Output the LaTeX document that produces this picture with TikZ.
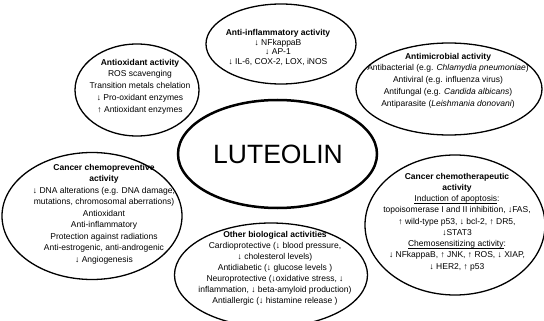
\documentclass[tikz,border=0pt]{standalone}
\usepackage{fontspec}
\setmainfont{Liberation Sans}
\usetikzlibrary{shapes.geometric}
\newcommand\myul[1]{\setbox0\hbox{#1}\rlap{\rule[-1.6pt]{\wd0}{0.55pt}}\box0}
\begin{document}
\begin{tikzpicture}[x=1pt,y=-1pt,
  bubble/.style={draw=black, ellipse, line width=1.3pt, inner sep=0pt},
  core/.style={draw=black, ellipse, line width=2.5pt, inner sep=0pt},
  txt/.style={align=center, inner sep=0pt, text=black}]
\useasboundingbox (0,0) rectangle (544,321);
\fill[white] (0,0) rectangle (544,321);
% ellipses
\node[core, minimum width=199pt, minimum height=108pt] (lut) at (277.5,154) {};
\node[bubble, minimum width=150pt, minimum height=80pt] (infl) at (281,44) {};
\node[bubble, minimum width=124pt, minimum height=92pt] (oxid) at (137,90) {};
\node[bubble, minimum width=186pt, minimum height=92pt] (micro) at (449,89) {};
\node[bubble, minimum width=180pt, minimum height=127pt] (prev) at (92,216) {};
\node[bubble, minimum width=180pt, minimum height=140pt] (thera) at (455,225) {};
\node[bubble, minimum width=193pt, minimum height=104pt] (other) at (271,275) {};
% texts
\node[txt, font=\fontsize{26.5}{30}\selectfont] (lutt) at (278,154.5) {LUTEOLIN};
\node[txt, font=\fontsize{8.5}{9.7}\selectfont] (inflt) at (278,47.5)
  {\textbf{Anti-inflammatory activity}\\↓ NFkappaB\\↓ AP-1\\↓ IL-6, COX-2, LOX, iNOS};
\node[txt, font=\fontsize{8.5}{11.8}\selectfont] (oxidt) at (140,86.5)
  {\textbf{Antioxidant activity}\\ROS scavenging\\Transition metals chelation\\↓ Pro-oxidant enzymes\\↑ Antioxidant enzymes};
\node[txt, font=\fontsize{8.5}{11.8}\selectfont] (microt) at (448,80.5)
  {\textbf{Antimicrobial activity}\\Antibacterial (e.g. \textit{Chlamydia pneumoniae})\\Antiviral (e.g. influenza virus)\\Antifungal (e.g. \textit{Candida albicans})\\Antiparasite (\textit{Leishmania donovani})};
\node[txt, font=\fontsize{8.5}{11.5}\selectfont] (prevt) at (104,214)
  {\textbf{Cancer chemopreventive}\\\textbf{activity}\\↓ DNA alterations (e.g. DNA damage,\\mutations, chromosomal aberrations)\\Antioxidant\\Anti-inflammatory\\Protection against radiations\\Anti-estrogenic, anti-androgenic\\↓ Angiogenesis};
\node[txt, font=\fontsize{8.5}{11.25}\selectfont] (therat) at (457,222)
  {\textbf{Cancer chemotherapeutic}\\\textbf{activity}\\\myul{Induction of apoptosis}:\\topoisomerase I and II inhibition, ↓FAS,\\↑ wild-type p53, ↓ bcl-2, ↑ DR5,\\↓STAT3\\\myul{Chemosensitizing activity}:\\↓ NFkappaB, ↑ JNK, ↑ ROS, ↓ XIAP,\\↓ HER2, ↑ p53};
\node[txt, font=\fontsize{8.5}{11}\selectfont] (othert) at (275,268)
  {\textbf{Other biological activities}\\Cardioprotective (↓ blood pressure,\\↓ cholesterol levels)\\Antidiabetic (↓ glucose levels )\\Neuroprotective (↓oxidative stress, ↓\\inflammation, ↓ beta-amyloid production)\\Antiallergic (↓ histamine release )};
\end{tikzpicture}
\end{document}
